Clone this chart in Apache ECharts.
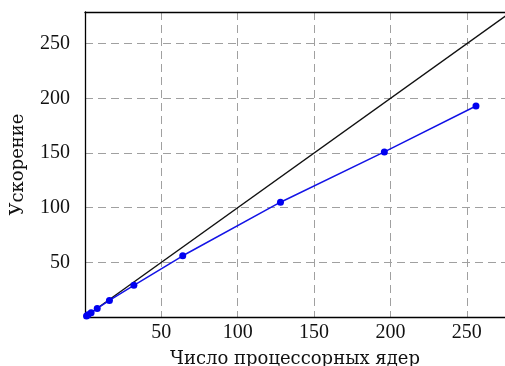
<!DOCTYPE html>
<html>
<head>
<meta charset="utf-8">
<script src="https://cdn.jsdelivr.net/npm/echarts@6/dist/echarts.min.js"></script>
<style>html,body{margin:0;padding:0;background:#fff}#c{width:505px;height:366px}</style>
</head>
<body>
<div id="c"></div>
<script>
var cores = [1, 2, 4, 8, 16, 32, 64, 128, 196, 256];
var speedup = [1, 2, 3.9, 7.8, 15.2, 29, 56, 105, 151, 193];
var idealX = [0, 280];
var xTicks = [50, 100, 150, 200, 250];
var yTicks = [50, 100, 150, 200, 250];

var FONT = 'Liberation Serif';
var TFONT = 'DejaVu Serif';
var TXT = '#111';
var chart = echarts.init(document.getElementById('c'), null, {renderer: 'canvas'});
chart.setOption({
  animation: false,
  backgroundColor: '#fff',
  grid: {left: 85, top: 12, right: 0, bottom: 49, show: false, containLabel: false, outerBoundsMode: 'none'},
  xAxis: [{
    type: 'value', min: 0, max: 275, interval: 50,
    name: 'Число процессорных ядер', nameLocation: 'middle', nameGap: 33, nameMoveOverlap: false,
    nameTextStyle: {fontFamily: TFONT, fontSize: 18, color: TXT},
    axisLine: {show: true, lineStyle: {color: '#000', width: 1.3}},
    axisTick: {show: false},
    axisLabel: {fontFamily: FONT, fontSize: 20, color: TXT, margin: 6,
      formatter: function (v) { return xTicks.indexOf(v) >= 0 ? String(v) : ''; }},
    splitLine: {show: true, lineStyle: {color: '#a0a0a0', type: [8, 5], width: 1}}
  }, {
    type: 'value', position: 'top', min: 0, max: 275,
    axisLine: {show: true, lineStyle: {color: '#000', width: 1.3}},
    axisTick: {show: false}, axisLabel: {show: false}, splitLine: {show: false}
  }],
  yAxis: {
    type: 'value', min: 0, max: 279, interval: 50,
    name: 'Ускорение', nameLocation: 'middle', nameGap: 58, nameMoveOverlap: false,
    nameTextStyle: {fontFamily: TFONT, fontSize: 18, color: TXT},
    axisLine: {show: true, lineStyle: {color: '#000', width: 1.3}},
    axisTick: {show: false},
    axisLabel: {fontFamily: FONT, fontSize: 20, color: TXT, margin: 15,
      formatter: function (v) { return yTicks.indexOf(v) >= 0 ? String(v) : ''; }},
    splitLine: {show: true, lineStyle: {color: '#a0a0a0', type: [8, 5], width: 1}}
  },
  series: [
    {
      type: 'line', data: idealX.map(function (v) { return [v, v]; }),
      symbol: 'none', lineStyle: {color: '#111', width: 1.4}, z: 3
    },
    {
      type: 'line', data: cores.map(function (c, i) { return [c, speedup[i]]; }),
      symbol: 'circle', symbolSize: 7,
      itemStyle: {color: '#0000f0'}, lineStyle: {color: '#1414e6', width: 1.5}, z: 4
    }
  ]
});
</script>
</body>
</html>
